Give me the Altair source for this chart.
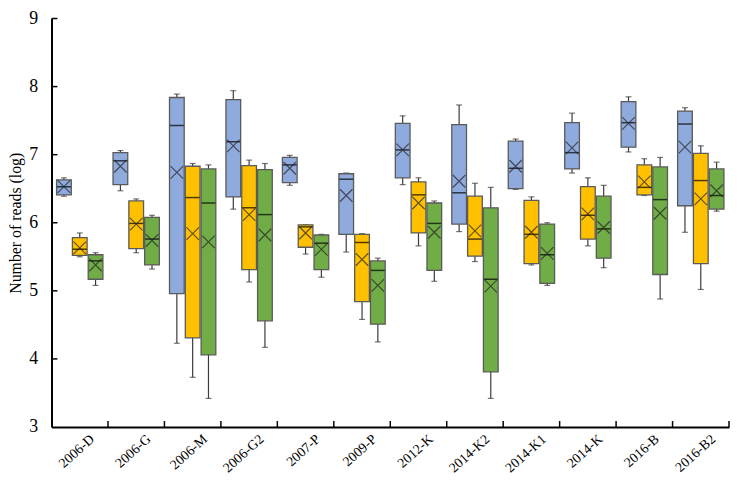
import altair as alt
import pandas as pd

categories = ["2006-D", "2006-G", "2006-M", "2006-G2", "2007-P", "2009-P",
              "2012-K", "2014-K2", "2014-K1", "2014-K", "2016-B", "2016-B2"]
series = ["S1", "S2", "S3"]
colors = ["#8FAADC", "#FFC000", "#70AD47"]

# series 1 (blue)
s1_min = [6.39, 6.47, 4.23, 6.20, 6.55, 5.57, 6.56, 5.87, 6.49, 6.73, 7.04, 5.86]
s1_q1 = [6.41, 6.56, 4.96, 6.38, 6.59, 5.83, 6.66, 5.98, 6.50, 6.79, 7.11, 6.25]
s1_med = [6.53, 6.91, 7.43, 7.19, 6.85, 6.64, 7.07, 6.44, 6.80, 7.03, 7.47, 7.45]
s1_q3 = [6.63, 7.03, 7.84, 7.81, 6.96, 6.72, 7.46, 7.44, 7.20, 7.47, 7.78, 7.64]
s1_max = [6.66, 7.06, 7.89, 7.94, 6.99, 6.73, 7.57, 7.73, 7.23, 7.61, 7.85, 7.69]
s1_mean = [6.53, 6.83, 6.74, 7.13, 6.80, 6.40, 7.07, 6.61, 6.83, 7.10, 7.46, 7.11]

# series 2 (orange)
s2_min = [5.50, 5.56, 3.73, 5.13, 5.54, 4.58, 5.66, 5.43, 5.38, 5.66, 6.40, 5.02]
s2_q1 = [5.52, 5.62, 4.31, 5.31, 5.64, 4.84, 5.85, 5.51, 5.40, 5.76, 6.41, 5.40]
s2_med = [5.61, 5.99, 6.37, 6.22, 5.94, 5.71, 6.41, 5.76, 5.83, 6.11, 6.52, 6.62]
s2_q3 = [5.78, 6.32, 6.83, 6.84, 5.97, 5.83, 6.60, 6.39, 6.33, 6.53, 6.85, 7.02]
s2_max = [5.85, 6.35, 6.87, 6.92, 5.97, 5.84, 6.66, 6.58, 6.38, 6.66, 6.94, 7.13]
s2_mean = [5.63, 5.98, 5.84, 6.12, 5.85, 5.46, 6.29, 5.88, 5.86, 6.13, 6.60, 6.35]

# series 3 (green)
s3_min = [5.08, 5.32, 3.42, 4.17, 5.20, 4.25, 5.14, 3.42, 5.08, 5.34, 4.88, 6.17]
s3_q1 = [5.17, 5.38, 4.06, 4.56, 5.31, 4.51, 5.30, 3.81, 5.11, 5.48, 5.24, 6.20]
s3_med = [5.44, 5.76, 6.29, 6.12, 5.70, 5.30, 5.99, 5.17, 5.53, 5.91, 6.34, 6.40]
s3_q3 = [5.53, 6.08, 6.79, 6.78, 5.82, 5.44, 6.29, 6.22, 5.98, 6.39, 6.82, 6.79]
s3_max = [5.56, 6.11, 6.85, 6.87, 5.83, 5.48, 6.32, 6.52, 6.00, 6.55, 6.96, 6.89]
s3_mean = [5.38, 5.74, 5.72, 5.82, 5.61, 5.08, 5.86, 5.07, 5.55, 5.93, 6.14, 6.47]

y_ticks = [3, 4, 5, 6, 7, 8, 9]

stats = {
    "S1": (s1_min, s1_q1, s1_med, s1_q3, s1_max, s1_mean),
    "S2": (s2_min, s2_q1, s2_med, s2_q3, s2_max, s2_mean),
    "S3": (s3_min, s3_q1, s3_med, s3_q3, s3_max, s3_mean),
}
rows = []
for s in series:
    mn, q1, md, q3, mx, me = stats[s]
    for i, c in enumerate(categories):
        rows.append(dict(cat=c, series=s, lo=mn[i], q1=q1[i], med=md[i],
                         q3=q3[i], hi=mx[i], mean=me[i]))
df = pd.DataFrame(rows)

FONT = "Liberation Serif"

x_enc = alt.X("cat:N", sort=categories,
              scale=alt.Scale(paddingInner=0, paddingOuter=0),
              axis=alt.Axis(title=None, labelAngle=-42, labelFont=FONT,
                            labelFontSize=14, labelColor="black",
                            labelAlign="right", labelBaseline="middle",
                            ticks=False, domainColor="black", domainWidth=2,
                            labelPadding=10, labelOffset=13))
xo_enc = alt.XOffset("series:N", sort=series,
                     scale=alt.Scale(paddingInner=0.07, paddingOuter=0.32))
y_scale = alt.Scale(domain=[3, 9], nice=False, zero=False)
color_enc = alt.Color("series:N", sort=series,
                      scale=alt.Scale(domain=series, range=colors), legend=None)

base = alt.Chart(df)

whisker = base.mark_rule(color="#3a3a3a", strokeWidth=1.2).encode(
    x=x_enc, xOffset=xo_enc,
    y=alt.Y("lo:Q", scale=y_scale,
            axis=alt.Axis(title="Number of reads (log)", values=y_ticks,
                          format="d",
                          titleFont=FONT, titleFontSize=16,
                          titleFontWeight="normal", titleColor="black",
                          titlePadding=5, labelFont=FONT, labelFontSize=18,
                          labelColor="black", ticks=False, grid=False,
                          domainColor="black", domainWidth=2,
                          labelPadding=14)),
    y2="hi:Q")
cap_lo = base.mark_tick(color="#3a3a3a", size=6, thickness=1.2).encode(
    x=x_enc, xOffset=xo_enc, y=alt.Y("lo:Q", scale=y_scale))
cap_hi = base.mark_tick(color="#3a3a3a", size=6, thickness=1.2).encode(
    x=x_enc, xOffset=xo_enc, y=alt.Y("hi:Q", scale=y_scale))
box = base.mark_bar(stroke="#5a5a5a", strokeWidth=1.3).encode(
    x=x_enc, xOffset=xo_enc, y=alt.Y("q1:Q", scale=y_scale), y2="q3:Q",
    color=color_enc)
median = base.mark_tick(color="black", size=14, thickness=1.5).encode(
    x=x_enc, xOffset=xo_enc, y=alt.Y("med:Q", scale=y_scale))
mean = base.mark_point(shape="M-1,-1L1,1M-1,1L1,-1", size=160, filled=False,
                       color="#222222", strokeWidth=1.2).encode(
    x=x_enc, xOffset=xo_enc, y=alt.Y("mean:Q", scale=y_scale))

# inward tick marks
ytick_df = pd.DataFrame({"v": y_ticks[1:]})
ytick = alt.Chart(ytick_df).mark_rule(color="black", strokeWidth=1.5).encode(
    y=alt.Y("v:Q", scale=y_scale), x=alt.value(0), x2=alt.value(6))
xtick_df = pd.DataFrame({"cat": categories})
xtick = alt.Chart(xtick_df).mark_rule(color="black", strokeWidth=1.5).encode(
    x=alt.X("cat:N", sort=categories, bandPosition=1),
    y=alt.value(413), y2=alt.value(407))

chart = alt.layer(whisker, cap_lo, cap_hi, box, median, mean, ytick, xtick).properties(
    width=685, height=413,
    autosize=alt.AutoSizeParams(type="none"),
    padding={"left": 44, "top": 8, "right": 1, "bottom": 54},
).configure_view(stroke=None)

chart.save("out.html", embed_options={"renderer": "svg", "actions": False})
